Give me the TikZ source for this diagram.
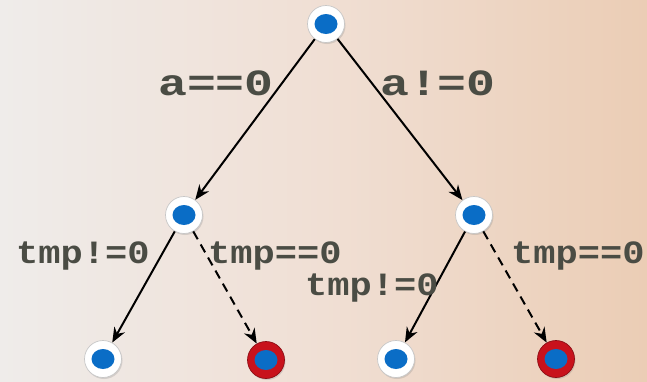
\documentclass[tikz,border=0pt]{standalone}
\usepackage{fontspec}
\usepackage{graphicx}
\usetikzlibrary{arrows.meta,shadows}
\newfontfamily\lblfont{Liberation Mono}
\definecolor{bgL}{HTML}{EFECEA}
\definecolor{bgM}{HTML}{F0DFD4}
\definecolor{bgR}{HTML}{EBCDB5}
\definecolor{dotblue}{HTML}{0A6DC6}
\definecolor{ringred}{HTML}{C8121C}
\definecolor{lbl}{HTML}{4A4C44}
\tikzset{
  state/.style={circle, minimum size=37pt, inner sep=0pt, fill=white,
    draw=black!22, line width=0.7pt,
    drop shadow={opacity=0.25, shadow xshift=1pt, shadow yshift=-1.5pt},
    path picture={\fill[dotblue] (path picture bounding box.center) ellipse (11.5pt and 10pt);}},
  final/.style={state, fill=ringred, draw=ringred!70!black},
  edge/.style={draw=black, line width=2pt, -{Stealth[length=15pt,width=12pt]}},
  dedge/.style={edge, dash pattern=on 9pt off 6pt},
  lab/.style={inner sep=0pt, text=lbl, font=\lblfont\bfseries},
  big/.style={lab, font=\lblfont\bfseries\fontsize{37}{37}\selectfont},
  small/.style={lab, font=\lblfont\bfseries\fontsize{32.5}{32.5}\selectfont},
}
\begin{document}
\begin{tikzpicture}[x=1pt,y=-1pt]
\shade[left color=bgL, right color=bgR, middle color=bgM] (0,0) rectangle (647,381);
\useasboundingbox (0,0) rectangle (647,381);
\node[state] (r) at (326,24) {};
\node[state] (l) at (184,215) {};
\node[state] (m) at (474,215) {};
\node[state] (ll) at (103,359) {};
\node[final] (lr) at (266,360) {};
\node[state] (ml) at (396,359) {};
\node[final] (mr) at (556,359) {};
\draw[edge] (r) -- (l);
\draw[edge] (r) -- (m);
\draw[edge] (l) -- (ll);
\draw[dedge] (l) -- (lr);
\draw[edge] (m) -- (ml);
\draw[dedge] (m) -- (mr);
\node[big, anchor=base west] (t1) at (158,95) {\scalebox{1.3}[1]{a==0}};
\node[big, anchor=base west] (t2) at (380,95) {\scalebox{1.3}[1]{a!=0}};
\node[small, anchor=base west] (t3) at (16,263) {\scalebox{1.14}[1]{tmp!=0}};
\node[small, anchor=base west] (t4) at (208,263) {\scalebox{1.14}[1]{tmp==0}};
\node[small, anchor=base west] (t5) at (305,295) {\scalebox{1.14}[1]{tmp!=0}};
\node[small, anchor=base west] (t6) at (511,263) {\scalebox{1.14}[1]{tmp==0}};
\end{tikzpicture}
\end{document}
